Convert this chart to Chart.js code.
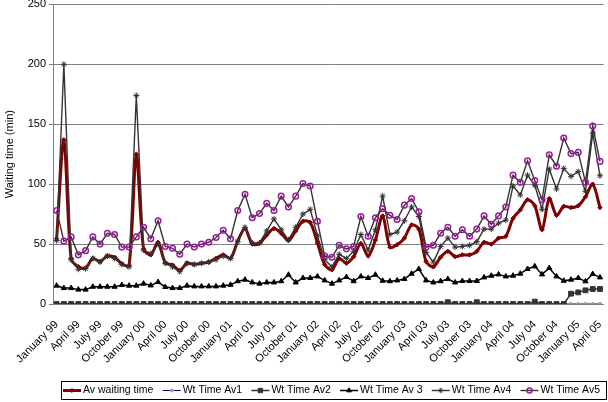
<!DOCTYPE html>
<html>
<head>
<meta charset="utf-8">
<script src="https://cdn.jsdelivr.net/npm/chart.js@4"></script>
<style>
  body { margin: 0; background: #fff; }
  #wrap { width: 608px; height: 402px; }
</style>
</head>
<body>
<div id="wrap"><canvas id="chart" width="608" height="402"></canvas></div>
<script>
// monthly categories, January 99 .. April 05
const monthNames = ['January', 'February', 'March', 'April', 'May', 'June', 'July',
  'August', 'September', 'October', 'November', 'December'];
const years = ['99', '00', '01', '02', '03', '04', '05'];
const categories = [];
years.forEach(y => monthNames.forEach(m => categories.push(m + ' ' + y)));
categories.length = 76;

const avWaiting = [
  54.4, 137, 38, 31, 30, 38, 35.5, 40, 39, 33.5, 32, 125,
  46, 41, 51.5, 34.5, 32.5, 28, 34, 33, 34, 35, 38, 41,
  38, 52.5, 63, 50, 50.5, 57.5, 63, 59, 53, 61, 69, 68,
  51, 33, 28.5, 38, 34, 39.5, 50.5, 40, 53.5, 73.5, 47.5, 49.5,
  55, 66, 62.5, 35.5, 31, 39, 44, 39.5, 41, 41, 44, 51.5,
  50, 55, 56.5, 71.5, 78.5, 87, 82, 62, 88, 74, 81.5, 80.5,
  82, 89.5, 100, 80.5
];
const wtAv1 = [
  0, 0, 0, 0, 0, 0, 0, 0, 0, 0, 0, 0,
  0, 0, 0, 0, 0, 0, 0, 0, 0, 0, 0, 0,
  0, 0, 0, 0, 0, 0, 0, 0, 0, 0, 0, 0,
  0, 0, 0, 0, 0, 0, 0, 0, 0, 0, 0, 0,
  0, 0, 0, 0, 0, 0, 0, 0, 0, 0, 0, 0,
  0, 0, 0, 0, 0, 0, 0, 0, 0, 0, 0, 0,
  0, 0, 0, 0
];
const wtAv2 = [
  0, 0, 0, 0, 0, 0, 0, 0, 0, 0, 0, 0,
  0, 0, 0, 0, 0, 0, 0, 0, 0, 0, 0, 0,
  0, 0, 0, 0, 0, 0, 0, 0, 0, 0, 0, 0,
  0, 0, 0, 0, 0, 0, 0, 0, 0, 0, 0, 0,
  0, 0, 0, 0, 0, 0, 1.5, 0, 0, 0, 1.5, 0,
  0, 0, 0, 0, 0, 0, 2, 0, 0, 0, 0, 8.6,
  9.7, 11.4, 12.5, 12.5
];
const wtAv3 = [
  15.3, 13.3, 13.3, 12, 12, 14.4, 14.4, 14.4, 14.4, 15.8, 15.3, 15.3,
  17, 15.5, 18.3, 14.2, 13.3, 13.3, 15.3, 14.7, 14.7, 14.7, 14.7, 15.3,
  16, 19, 20.3, 18, 17, 18, 18, 19, 24.4, 18, 21.7, 21.7,
  23, 19.7, 17, 19.7, 22.5, 19, 23, 21.7, 24.4, 19.4, 19, 19.7,
  20.8, 25.3, 29.2, 19.7, 18, 19, 20.8, 18, 19.2, 19.2, 19.2, 22.2,
  23.6, 24.7, 23, 23.6, 25.3, 29.2, 31.4, 24.7, 30, 23, 19.4, 20.3,
  21.7, 18.9, 25, 22.2
];
const wtAv4 = [
  53, 200, 37, 29, 29.5, 38, 35, 40, 38, 33, 31, 174,
  45, 42, 50, 34, 31, 27, 34, 33, 34, 35, 37, 40,
  38, 52, 64, 51, 51, 61, 71, 62, 53.5, 64, 75, 79,
  57, 37, 31, 41.5, 38, 44, 58, 45, 62, 90, 58, 60,
  69.5, 81, 73, 43, 35, 48, 55, 47.5, 48, 49, 52, 62.5,
  62.5, 67.5, 70, 98.5, 91, 107.5, 99, 79, 112.5, 96, 113, 106.5,
  110.5, 94, 142.5, 107
];
const wtAv5 = [
  78, 52.5, 56, 41, 44.5, 56, 50, 59, 58, 47.5, 47.5, 56,
  64, 54.5, 69.5, 48, 46.5, 41.5, 50, 47.5, 50, 51.5, 55.5, 61.5,
  54.5, 78, 91.5, 72, 75.5, 84, 78, 90, 81, 90, 100.5, 98.5,
  69, 40, 39, 49, 46, 48, 73, 56.5, 72, 79.5, 74, 70.5,
  82.5, 88, 77, 47.5, 49, 59, 64, 56.5, 62, 56.5, 62.5, 73.5,
  66.5, 73.5, 81, 107.5, 101.5, 119.5, 103, 87, 124.5, 115, 138.5, 125.5,
  126.5, 101.5, 148.5, 119
];
const seriesNames = ['Av waiting time', 'Wt Time Av1', 'Wt Time Av2', 'Wt Time Av 3', 'Wt Time Av4', 'Wt Time Av5'];
const yTicks = [0, 50, 100, 150, 200, 250];

const FONT = '"Liberation Sans", Arial, sans-serif';

function series(i, data, color, style, radius, fill, width, order, extra) {
  return Object.assign({
    label: seriesNames[i],
    data: data,
    borderColor: color,
    borderWidth: width,
    pointStyle: style,
    pointRadius: radius,
    pointBackgroundColor: fill,
    pointBorderColor: fill === 'rgba(0,0,0,0)' ? color : fill,
    pointBorderWidth: 1,
    pointHoverRadius: radius,
    tension: 0,
    order: order
  }, extra || {});
}

const datasets = [
  series(0, avWaiting, '#800000', 'rectRot', 2.2, '#800000', 3, 6, { tension: 0.3 }),
  series(1, wtAv1, '#000080', 'circle', 1.6, '#9999aa', 1, 5, { pointBorderColor: '#9999aa' }),
  series(2, wtAv2, '#333333', 'rect', 3.4, '#333333', 1.5, 4),
  series(3, wtAv3, '#000000', 'triangle', 3, '#000000', 1.5, 3),
  series(4, wtAv4, '#333333', 'star', 3, 'rgba(0,0,0,0)', 1.4, 2, { pointBorderColor: '#333333' }),
  series(5, wtAv5, '#333333', 'circle', 2.8, 'rgba(0,0,0,0)', 1.4, 1, { pointBorderColor: '#9a1a9a', pointBorderWidth: 1.5 })
];

// legend drawn like the spreadsheet one: line + marker + text inside a box
const boxLegend = {
  id: 'boxLegend',
  afterDraw(chart) {
    const ctx = chart.ctx;
    const left = 61, right = 606, top = 381, bottom = 399;
    ctx.save();
    ctx.strokeStyle = '#000';
    ctx.lineWidth = 1;
    ctx.strokeRect(left + 0.5, top + 0.5, right - left, bottom - top);
    ctx.font = '10.5px ' + FONT;
    ctx.textBaseline = 'middle';
    const lineLen = 18;
    const widths = seriesNames.map(n => ctx.measureText(n).width);
    const sum = widths.reduce((a, b) => a + b, 0);
    const gap = (right - 6 - (left + 2) - seriesNames.length * (lineLen + 2) - sum) / (seriesNames.length - 1);
    let x = left + 2;
    const y = (top + bottom) / 2 + 0.5;
    datasets.forEach((ds, i) => {
      ctx.strokeStyle = ds.borderColor;
      ctx.lineWidth = ds.borderWidth;
      ctx.beginPath();
      ctx.moveTo(x, y);
      ctx.lineTo(x + lineLen, y);
      ctx.stroke();
      ctx.fillStyle = ds.pointBackgroundColor;
      ctx.strokeStyle = ds.pointBorderColor;
      ctx.lineWidth = ds.pointBorderWidth;
      Chart.helpers.drawPoint(ctx, {
        pointStyle: ds.pointStyle, radius: ds.pointRadius * 0.9, rotation: 0, borderWidth: ds.pointBorderWidth
      }, x + lineLen / 2, y);
      ctx.fillStyle = '#000';
      ctx.fillText(seriesNames[i], x + lineLen + 2, y);
      x += lineLen + 2 + widths[i] + gap;
    });
    ctx.restore();
  }
};

new Chart(document.getElementById('chart'), {
  type: 'line',
  data: { labels: categories, datasets: datasets },
  plugins: [boxLegend],
  options: {
    responsive: false,
    animation: false,
    devicePixelRatio: 1,
    layout: { padding: 0 },
    plugins: { legend: { display: false }, tooltip: { enabled: false } },
    scales: {
      x: {
        offset: true,
        grid: { display: false },
        border: { display: true, color: '#808080' },
        ticks: {
          autoSkip: false,
          minRotation: 45,
          maxRotation: 45,
          padding: 6,
          color: '#000',
          font: { family: FONT, size: 11 },
          callback: function (v, i) { return i % 3 === 0 ? categories[i] : ''; }
        },
        afterFit(scale) {
          scale.height = 98;
          scale.paddingLeft = 0;
          scale.paddingRight = 0;
        }
      },
      y: {
        min: yTicks[0],
        max: yTicks[yTicks.length - 1],
        afterBuildTicks(scale) { scale.ticks = yTicks.map(v => ({ value: v })); },
        grid: { color: '#808080', lineWidth: 1, tickLength: 4, tickColor: '#808080' },
        border: { display: true, color: '#808080' },
        ticks: { color: '#000', padding: 3, font: { family: FONT, size: 11 } },
        title: {
          display: true,
          text: 'Waiting time (min)',
          color: '#000',
          font: { family: FONT, size: 11 },
          padding: { top: 3, bottom: 0 }
        },
        afterFit(scale) {
          scale.width = 53;
          scale.paddingTop = 4;
          scale.paddingBottom = 0;
        }
      }
    }
  }
});
</script>
</body>
</html>
